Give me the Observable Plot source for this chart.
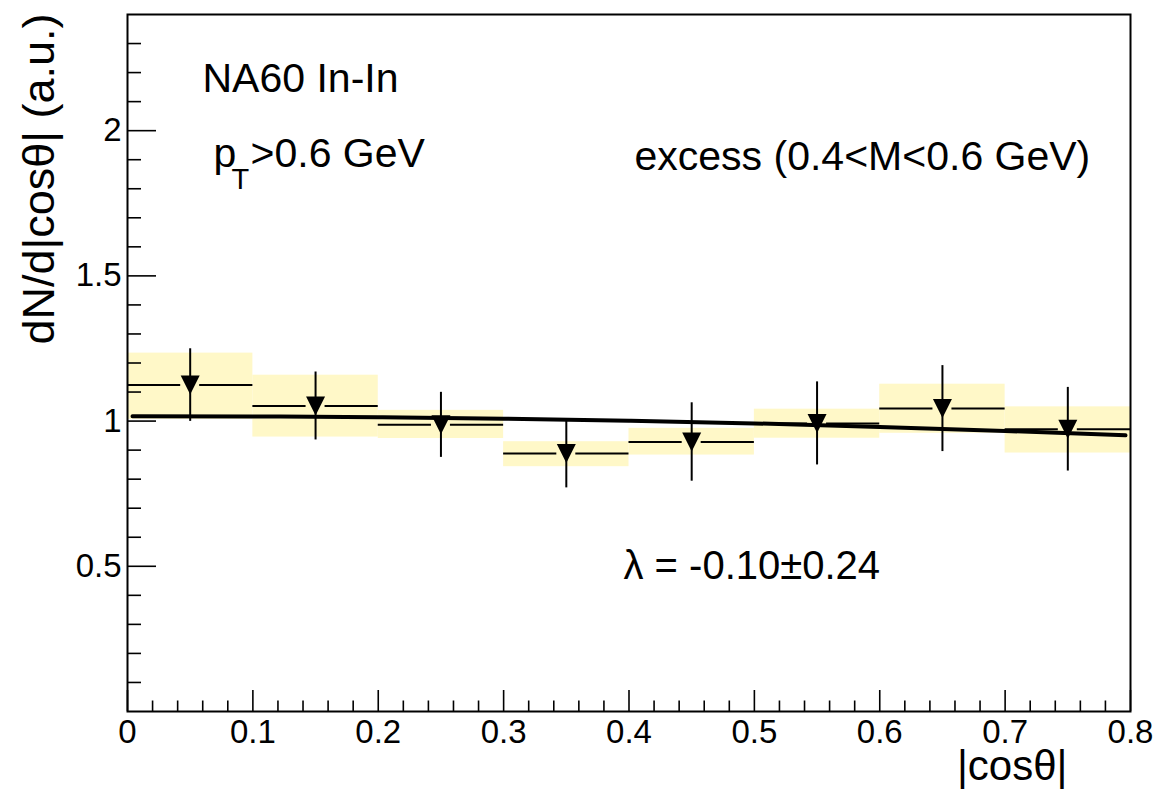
<!DOCTYPE html>
<html>
<head>
<meta charset="utf-8">
<script src="https://cdn.jsdelivr.net/npm/d3@7"></script>
<script src="https://cdn.jsdelivr.net/npm/@observablehq/plot@0.6"></script>
<style>
html, body { margin: 0; padding: 0; background: #ffffff; }
#chart svg { display: block; }
</style>
</head>
<body>
<div id="chart"></div>
<script>
// ---- data ----
const binLow   = [0.0, 0.1, 0.2, 0.3, 0.4, 0.5, 0.6, 0.7];
const binHigh  = [0.1, 0.2, 0.3, 0.4, 0.5, 0.6, 0.7, 0.8];
const binCenter = [0.05, 0.15, 0.25, 0.35, 0.45, 0.55, 0.65, 0.75];
const values   = [1.124, 1.052, 0.987, 0.888, 0.928, 0.992, 1.043, 0.972];
const statErr  = [0.125, 0.117, 0.112, 0.118, 0.135, 0.143, 0.148, 0.144];
const sysLow   = [1.006, 0.945, 0.940, 0.843, 0.883, 0.941, 0.958, 0.890];
const sysHigh  = [1.234, 1.158, 1.037, 0.929, 0.975, 1.041, 1.127, 1.049];

// fit curve
const fitX = [0.004, 0.1, 0.2, 0.3, 0.4, 0.5, 0.6, 0.7, 0.796];
const fitY = [1.017, 1.016, 1.013, 1.008, 1.001, 0.992, 0.980, 0.966, 0.951];

// axis ticks
const xMajorTicks = [0, 0.1, 0.2, 0.3, 0.4, 0.5, 0.6, 0.7, 0.8];
const xMinorTicks = d3.range(0.02, 0.8, 0.02).filter(v => Math.abs(v * 10 - Math.round(v * 10)) > 1e-6);
const yMajorTicks = [0.5, 1, 1.5, 2];
const yMinorTicks = d3.range(0.1, 2.35, 0.1).filter(v => Math.abs(v * 2 - Math.round(v * 2)) > 1e-6);

const texts = {
  experiment: "NA60 In-In",
  ptP: "p",
  ptSub: "T",
  ptRest: ">0.6 GeV",
  selection: "excess (0.4<M<0.6 GeV)",
  lambda: "λ = -0.10±0.24",
  xTitle: "|cosθ|",
  yTitle: "dN/d|cosθ| (a.u.)"
};

// ---- table built from arrays ----
const bins = binLow.map((lo, i) => ({
  lo, hi: binHigh[i], c: binCenter[i], v: values[i],
  eLo: values[i] - statErr[i], eHi: values[i] + statErr[i],
  sLo: sysLow[i], sHi: sysHigh[i]
}));
const fit = fitX.map((x, i) => ({x, y: fitY[i]}));

// ---- layout ----
const W = 1154, H = 790;
const mL = 127, mR = 24, mT = 14, mB = 79;
const plotW = W - mL - mR, plotH = H - mT - mB;
const FONT = "'Liberation Sans', Arial, Helvetica, sans-serif";

// downward triangle symbol (bbox-centred)
const triangleDown = {
  draw(context, size) {
    const s = Math.sqrt(size / Math.PI);
    context.moveTo(-s, -s);
    context.lineTo(s, -s);
    context.lineTo(0, s);
    context.closePath();
  }
};

const txt = (s, o) => Plot.text([s], {text: d => d, fill: "black", ...o});

const chart = Plot.plot({
  width: W, height: H,
  marginLeft: mL, marginRight: mR, marginTop: mT, marginBottom: mB,
  style: {fontFamily: FONT, background: "white", color: "black"},
  x: {domain: [0, 0.8]},
  y: {domain: [0, 2.4]},
  marks: [
    // systematic boxes
    Plot.rect(bins, {x1: "lo", x2: "hi", y1: "sLo", y2: "sHi", fill: "#fff8c8"}),
    // horizontal bin-width bars (gap around marker)
    Plot.ruleY(bins, {y: "v", x1: "lo", x2: "c", insetRight: 9.5, stroke: "black", strokeWidth: 2}),
    Plot.ruleY(bins, {y: "v", x1: "c", x2: "hi", insetLeft: 9.5, stroke: "black", strokeWidth: 2}),
    // statistical error bars
    Plot.ruleX(bins, {x: "c", y1: "eLo", y2: "eHi", stroke: "black", strokeWidth: 2}),
    // fit line
    Plot.line(fit, {x: "x", y: "y", stroke: "black", strokeWidth: 4, curve: "monotone-x"}),
    // markers
    Plot.dot(bins, {x: "c", y: "v", symbol: triangleDown, r: 9.5, fill: "black", stroke: "none"}),
    // inward ticks
    Plot.tickX(xMajorTicks, {x: d => d, insetTop: plotH - 21, stroke: "black", strokeWidth: 1.6}),
    Plot.tickX(xMinorTicks, {x: d => d, insetTop: plotH - 10.5, stroke: "black", strokeWidth: 1.6}),
    Plot.tickY(yMajorTicks, {y: d => d, insetRight: plotW - 29, stroke: "black", strokeWidth: 1.6}),
    Plot.tickY(yMinorTicks, {y: d => d, insetRight: plotW - 14, stroke: "black", strokeWidth: 1.6}),
    // tick labels
    Plot.axisX({ticks: xMajorTicks, tickSize: 0, tickPadding: 8, fontSize: 33, label: null, tickFormat: d => String(+d.toFixed(1))}),
    Plot.axisY({ticks: yMajorTicks, tickSize: 0, tickPadding: 6, fontSize: 33, label: null, tickFormat: d => String(d)}),
    Plot.frame({stroke: "black", strokeWidth: 2}),
    // annotations
    txt(texts.experiment, {frameAnchor: "top-left", dx: 75, dy: 77, textAnchor: "start", lineAnchor: "bottom", fontSize: 41}),
    txt(texts.ptP, {frameAnchor: "top-left", dx: 86, dy: 152, textAnchor: "start", lineAnchor: "bottom", fontSize: 41}),
    txt(texts.ptSub, {frameAnchor: "top-left", dx: 104, dy: 174, textAnchor: "start", lineAnchor: "bottom", fontSize: 29}),
    txt(texts.ptRest, {frameAnchor: "top-left", dx: 123, dy: 152, textAnchor: "start", lineAnchor: "bottom", fontSize: 41}),
    txt(texts.selection, {frameAnchor: "top-left", dx: 507, dy: 155, textAnchor: "start", lineAnchor: "bottom", fontSize: 41}),
    txt(texts.lambda, {frameAnchor: "top-left", dx: 496, dy: 564, textAnchor: "start", lineAnchor: "bottom", fontSize: 40}),
    txt(texts.xTitle, {frameAnchor: "bottom-right", dx: -63, dy: 68, textAnchor: "end", lineAnchor: "bottom", fontSize: 42}),
    txt(texts.yTitle, {frameAnchor: "top-left", dx: -74, dy: -1, textAnchor: "end", lineAnchor: "bottom", rotate: -90, fontSize: 45})
  ]
});

document.getElementById("chart").appendChild(chart);
</script>
</body>
</html>
